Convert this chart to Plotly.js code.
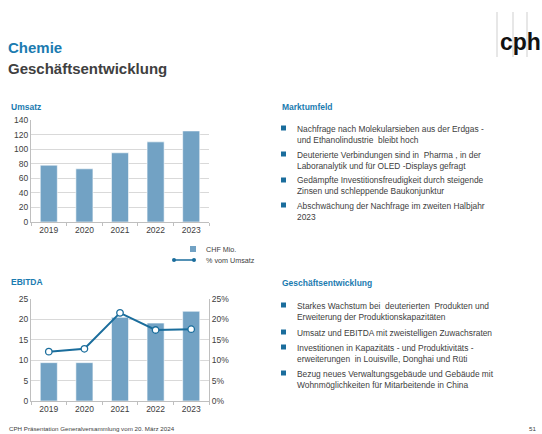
<!DOCTYPE html>
<html>
<head>
<meta charset="utf-8">
<script src="https://cdn.plot.ly/plotly-3.0.1.min.js"></script>
<style>html,body{margin:0;padding:0;background:#fff;}#chart{width:542px;height:434px;}</style>
</head>
<body>
<div id="chart"></div>
<script>
// ---- data ----
var years = ['2019', '2020', '2021', '2022', '2023'];
var umsatz = [78, 73, 95, 110, 125];           // CHF Mio.
var ebitda = [9.4, 9.4, 20.5, 19.1, 22.0];     // CHF Mio.
var marge = [0.121, 0.128, 0.216, 0.174, 0.176]; // % vom Umsatz

var barName = 'CHF Mio.';
var lineName = '% vom Umsatz';

var marktumfeld = [
  'Nachfrage nach Molekularsieben aus der Erdgas -<br>und Ethanolindustrie  bleibt hoch',
  'Deuterierte Verbindungen sind in  Pharma , in der<br>Laboranalytik und für OLED -Displays gefragt',
  'Gedämpfte Investitionsfreudigkeit durch steigende<br>Zinsen und schleppende Baukonjunktur',
  'Abschwächung der Nachfrage im zweiten Halbjahr<br>2023'
];
var geschaeft = [
  'Starkes Wachstum bei  deuterierten  Produkten und<br>Erweiterung der Produktionskapazitäten',
  'Umsatz und EBITDA mit zweistelligen Zuwachsraten',
  'Investitionen in Kapazitäts - und Produktivitäts -<br>erweiterungen  in Louisville, Donghai und Rüti',
  'Bezug neues Verwaltungsgebäude und Gebäude mit<br>Wohnmöglichkeiten für Mitarbeitende in China'
];

// ---- layout helpers (pixel -> paper) ----
var W = 542, H = 434;
function px(x) { return x / W; }
function py(y) { return 1 - y / H; }

var BAR = '#72a2c4';
var LINE = '#1a6d9c';
var BLUE = '#1b7bb0';
var DARK = '#404040';
var FONT = 'Arial, "Liberation Sans", sans-serif';

var traces = [
  {type: 'bar', x: years, y: umsatz, xaxis: 'x', yaxis: 'y', name: barName,
   marker: {color: BAR, line: {color: '#ffffff', width: 0.6}}, width: 0.48, showlegend: false},
  {type: 'bar', x: years, y: ebitda, xaxis: 'x2', yaxis: 'y2', name: barName,
   marker: {color: BAR, line: {color: '#ffffff', width: 0.6}}, width: 0.48, showlegend: false},
  {type: 'scatter', mode: 'lines+markers', x: years, y: marge, xaxis: 'x2', yaxis: 'y3', name: lineName,
   line: {color: LINE, width: 2},
   marker: {symbol: 'circle', size: 6.5, color: '#ffffff', line: {color: LINE, width: 1.3}}, showlegend: false}
];

var tickfont = {family: FONT, size: 8.5, color: DARK};
var axisLine = '#bfbfbf';
var grid = '#d9d9d9';

var xcommon = {type: 'category', showline: true, linecolor: axisLine, linewidth: 1,
  ticks: 'outside', tickson: 'boundaries', ticklen: 3, tickcolor: axisLine,
  showgrid: false, tickfont: tickfont, fixedrange: true};

var annotations = [];
var shapes = [];

function txt(t, x, y, size, color, bold, anchor) {
  annotations.push({text: bold ? '<b>' + t + '</b>' : t, xref: 'paper', yref: 'paper',
    x: px(x), y: py(y), xanchor: anchor || 'left', yanchor: 'middle', showarrow: false,
    align: 'left', font: {family: FONT, size: size, color: color}});
}

// titles
txt('Chemie', 6, 47, 15, BLUE, true);
txt('Geschäftsentwicklung', 6, 68, 15, DARK, true);
txt('Umsatz', 9, 107, 8.5, BLUE, true);
txt('EBITDA', 9, 282, 8.5, BLUE, true);
txt('Marktumfeld', 280, 107, 8.5, BLUE, true);
txt('Geschäftsentwicklung', 280, 283, 8.5, BLUE, true);

// logo
[497, 513, 527].forEach(function (lx) {
  shapes.push({type: 'line', xref: 'paper', yref: 'paper', x0: px(lx), x1: px(lx), y0: py(12), y1: py(57),
    line: {color: '#cfcfcf', width: 1}});
});
annotations.push({text: '<b>cph</b>', xref: 'paper', yref: 'paper', x: px(542), y: py(42),
  xanchor: 'right', yanchor: 'middle', showarrow: false, borderpad: 0,
  font: {family: FONT, size: 23, color: '#111111'}});

// bullets
function bullets(list, ys) {
  list.forEach(function (t, i) {
    shapes.push({type: 'rect', xref: 'paper', yref: 'paper', x0: px(281), x1: px(286),
      y0: py(ys[i] - 2.5), y1: py(ys[i] + 2.5), fillcolor: LINE, line: {width: 0}});
    annotations.push({text: t, xref: 'paper', yref: 'paper', x: px(295), y: py(ys[i] - 6.5),
      xanchor: 'left', yanchor: 'top', showarrow: false, align: 'left',
      font: {family: FONT, size: 8.4, color: DARK}});
  });
}
bullets(marktumfeld, [128, 154, 180, 205]);
bullets(geschaeft, [305, 332, 347, 373]);

// legend (drawn)
shapes.push({type: 'rect', xref: 'paper', yref: 'paper', x0: px(190), x1: px(196), y0: py(246), y1: py(252),
  fillcolor: BAR, line: {width: 0}});
shapes.push({type: 'line', xref: 'paper', yref: 'paper', x0: px(174), x1: px(194), y0: py(260), y1: py(260),
  line: {color: LINE, width: 1.5}});
[174, 194].forEach(function (cx) {
  shapes.push({type: 'circle', xref: 'paper', yref: 'paper', x0: px(cx - 2), x1: px(cx + 2), y0: py(258), y1: py(262),
    fillcolor: LINE, line: {color: LINE, width: 0}});
});
txt(barName, 204, 249, 7.2, DARK, false);
txt(lineName, 204, 260, 7.2, DARK, false);

// footer
txt('CPH Präsentation Generalversammlung vom 20. März 2024', 7, 428, 6.2, DARK, false);
txt('51', 538, 428, 6.2, DARK, false, 'right');

var layout = {
  width: W, height: H,
  margin: {l: 0, r: 0, t: 0, b: 0},
  paper_bgcolor: '#ffffff', plot_bgcolor: 'rgba(0,0,0,0)',
  showlegend: false,
  bargap: 0.5,
  font: {family: FONT, color: DARK},
  xaxis: Object.assign({}, xcommon, {domain: [px(31), px(209)], anchor: 'y'}),
  yaxis: {domain: [py(222), py(120)], range: [0, 140], dtick: 20, showgrid: true, gridcolor: grid,
    showline: true, linecolor: axisLine, ticks: '', tickfont: tickfont, zeroline: false, fixedrange: true,
    anchor: 'x'},
  xaxis2: Object.assign({}, xcommon, {domain: [px(31), px(209)], anchor: 'y2'}),
  yaxis2: {domain: [py(401), py(299)], range: [0, 25], dtick: 5, showgrid: true, gridcolor: grid,
    showline: true, linecolor: axisLine, ticks: '', tickfont: tickfont, zeroline: false, fixedrange: true,
    anchor: 'x2'},
  yaxis3: {overlaying: 'y2', side: 'right', anchor: 'x2', range: [0, 0.25], dtick: 0.05, tickformat: '.0%',
    showgrid: false, showline: true, linecolor: axisLine, ticks: '', tickfont: tickfont, zeroline: false,
    fixedrange: true},
  annotations: annotations,
  shapes: shapes
};

Plotly.newPlot('chart', traces, layout, {displayModeBar: false, staticPlot: true});
</script>
</body>
</html>
